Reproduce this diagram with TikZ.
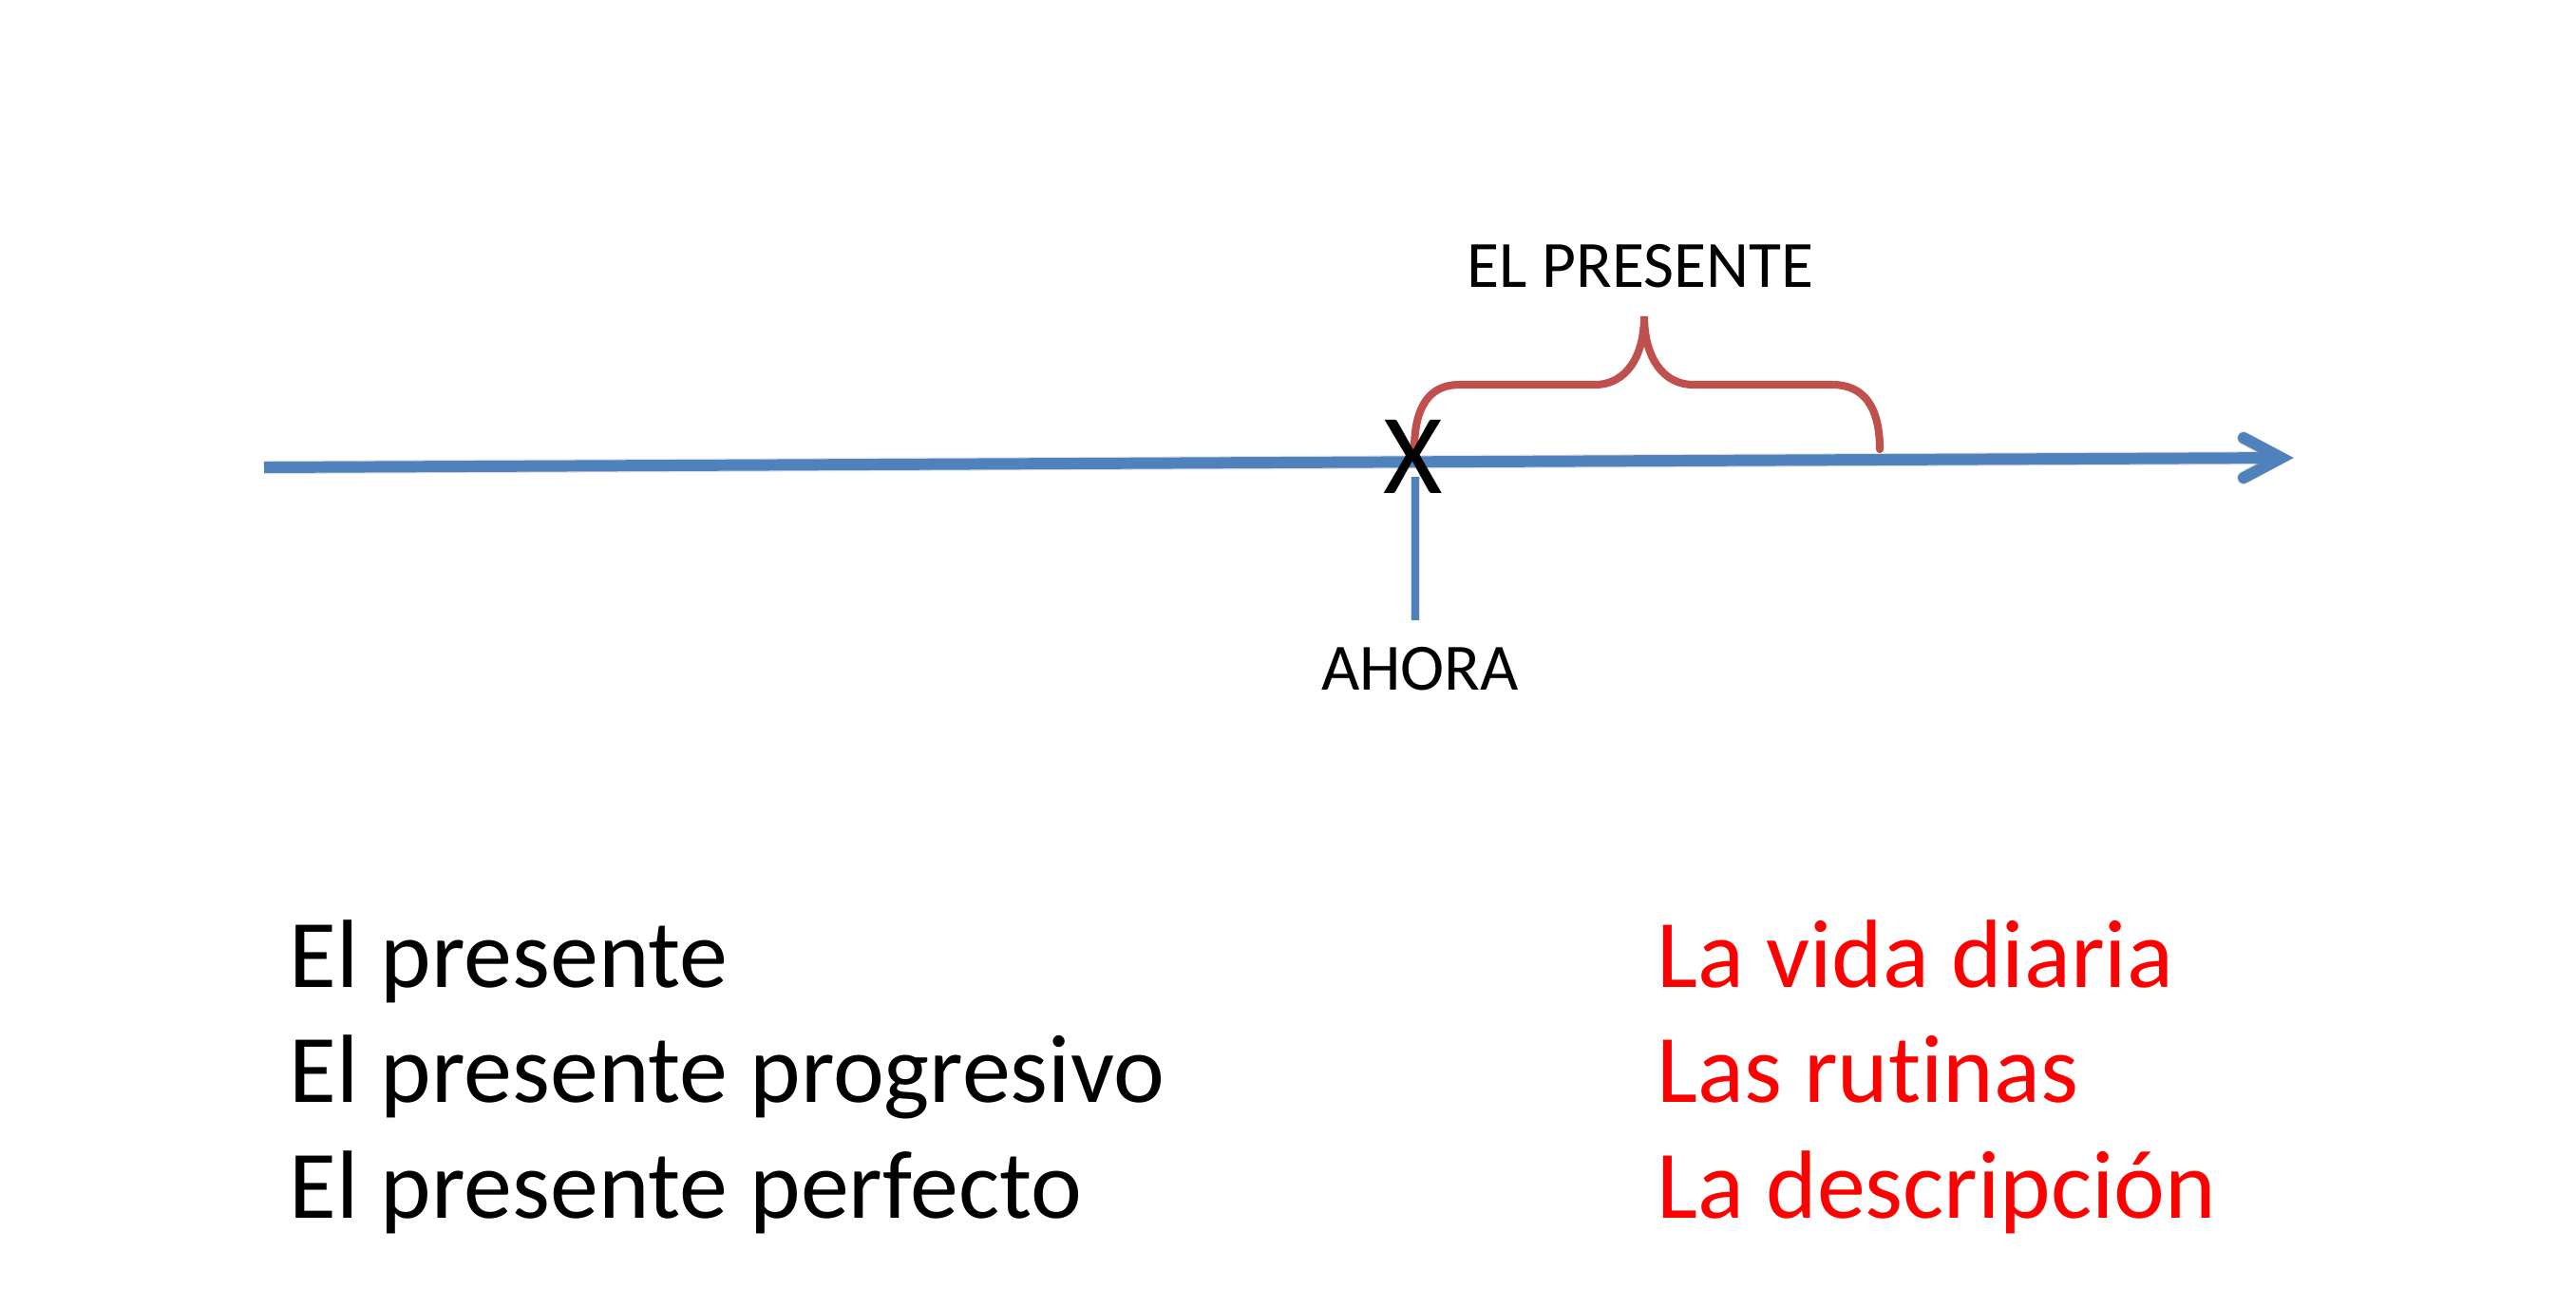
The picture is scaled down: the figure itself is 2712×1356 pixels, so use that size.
\documentclass[tikz,border=0pt]{standalone}
\usepackage{fontspec}
\setmainfont{Carlito}[Ligatures={NoCommon}]
\definecolor{lineblue}{HTML}{4F81BD}
\definecolor{bracered}{HTML}{C0504D}
\definecolor{textred}{HTML}{FF0000}
\begin{document}
\begin{tikzpicture}[x=0.01cm,y=-0.01cm,
  timeline/.style={draw=lineblue,line width=3.4pt},
  tick/.style={draw=lineblue,line width=2.3pt},
  bracepath/.style={draw=bracered,line width=2.3pt,line cap=round},
  shade/.style={draw=black,opacity=0.12},
  label/.style={inner sep=0pt,font=\fontsize{19.8}{23}\selectfont},
  listitem/.style={inner sep=0pt,anchor=base west,font=\fontsize{29}{35}\selectfont},
]
\useasboundingbox (0,0) rectangle (2712,1356);
\fill[white] (0,0) rectangle (2712,1356);

% coordinates
\coordinate (tl-start) at (278,492);
\coordinate (tl-end) at (2400,482);
\coordinate (now-top) at (1490,502);
\coordinate (now-bot) at (1490,653);
\coordinate (br-left) at (1489,473);
\coordinate (br-tip) at (1731,333);
\coordinate (br-right) at (1979,473);

% shadows
\begin{scope}[shift={(3,6)}]
\draw[shade,line width=4pt] (tl-start) -- (tl-end);
\draw[shade,line width=4pt,line cap=round,line join=round] ([shift={(-38,-21)}]tl-end) -- (tl-end) -- ([shift={(-38,21)}]tl-end);
\draw[shade,line width=2.6pt] (now-top) -- (now-bot);
\end{scope}

% timeline
\draw[timeline] (tl-start) -- (tl-end);
\draw[timeline,line cap=round,line join=miter] ([shift={(-38,-21)}]tl-end) -- ([shift={(2,0)}]tl-end) -- ([shift={(-38,21)}]tl-end);

% brace
\draw[bracepath] (br-left) .. controls (1489,428) and (1505,405) .. (1536,405)
  -- (1679,405) .. controls (1712,405) and (1731,375) .. (br-tip)
  .. controls (1731,375) and (1750,405) .. (1783,405)
  -- (1929,405) .. controls (1962,405) and (1979,428) .. (br-right);

% now tick
\draw[tick] (now-top) -- (now-bot);
\node[inner sep=0pt,font=\fontsize{34.2}{40}\selectfont] (x) at (1488,481) {X};

% labels
\node[label] (presente) at (1727,280) {EL PRESENTE};
\node[label] (ahora) at (1495,704) {AHORA};

% lists
\node[listitem] (l1) at (304,1039) {El presente};
\node[listitem] (l2) at (304,1160) {El presente progresivo};
\node[listitem] (l3) at (304,1282) {El presente perfecto};
\node[listitem,text=textred] (r1) at (1744,1039) {La vida diaria};
\node[listitem,text=textred] (r2) at (1744,1160) {Las rutinas};
\node[listitem,text=textred] (r3) at (1744,1282) {La descripción};
\end{tikzpicture}
\end{document}
